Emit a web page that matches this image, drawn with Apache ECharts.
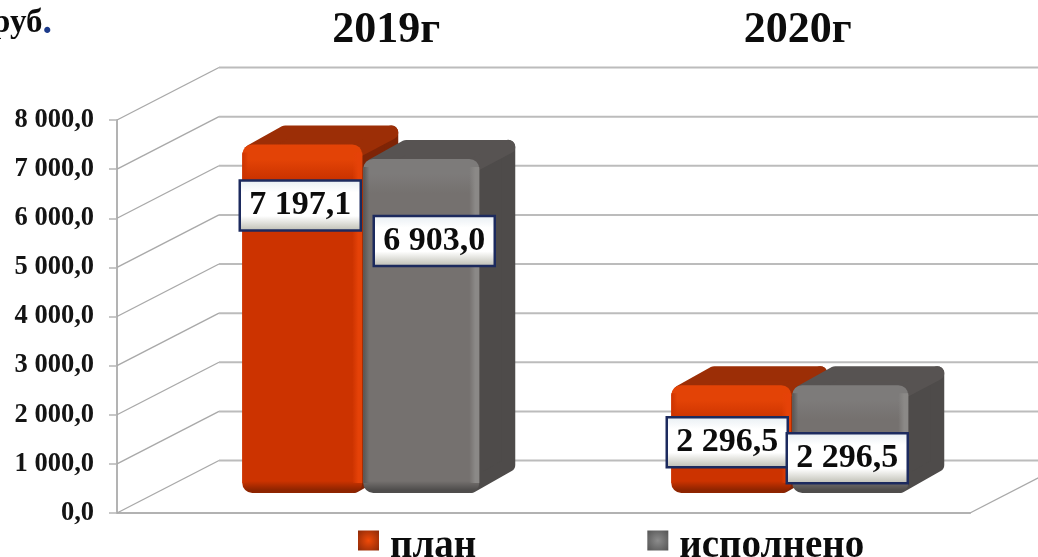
<!DOCTYPE html>
<html><head><meta charset="utf-8">
<style>html,body{margin:0;padding:0;background:#fff;overflow:hidden}#c{width:1038px;height:557px}</style>
<script src="https://cdn.jsdelivr.net/npm/echarts@6/dist/echarts.min.js"></script>
</head><body><div id="c"></div>
<script>
const categories = ['2019г', '2020г'];
const planValues = [7197.1, 2296.5];
const doneValues = [6903.0, 2296.5];
const planLabels = ['7 197,1', '2 296,5'];
const doneLabels = ['6 903,0', '2 296,5'];
const yTicks = [0, 1000, 2000, 3000, 4000, 5000, 6000, 7000, 8000];
const yTickLabels = ['0,0', '1 000,0', '2 000,0', '3 000,0', '4 000,0', '5 000,0', '6 000,0', '7 000,0', '8 000,0'];
const seriesNames = ['план', 'исполнено'];

const FONT = '"Liberation Serif","Times New Roman",serif';
const WALL = {dx: 102, dy: 52.5};
const BAR = {shift: [32, 34.5], lift: 20, dx: 36, dy: 19};
const PALETTE = {
  plan: {top: '#9c2e06', side: '#7e2406', bevel: '#e34306', main: '#cc3300', low: '#8e2400',
         edge: 'rgba(229,66,8,1)', edge0: 'rgba(229,66,8,0)', shade: 'rgba(204,51,0,1)', shade0: 'rgba(204,51,0,0)'},
  done: {top: '#575352', side: '#4e4b4a', bevel: '#7d7b7a', main: '#75716f', low: '#4f4d4c',
         edge: 'rgba(139,137,135,1)', edge0: 'rgba(139,137,135,0)', shade: 'rgba(87,85,84,1)', shade0: 'rgba(87,85,84,0)'}
};
const labelNudge = {plan: [[-2, 46], [-4, 42]], done: [[13, 67], [-3, 58]]};

function wallItem(params, api) {
  const cs = params.coordSys;
  const y = api.coord([0, api.value(1)])[1];
  const x0 = cs.x, x1 = cs.x + cs.width;
  const children = [
    {type: 'line', shape: {x1: x0, y1: y, x2: x0 + WALL.dx, y2: y - WALL.dy}, style: {stroke: '#a9a9a9', lineWidth: 1.4}},
    {type: 'line', shape: {x1: x0 + WALL.dx, y1: y - WALL.dy, x2: x1 + WALL.dx, y2: y - WALL.dy}, style: {stroke: '#bcbcbc', lineWidth: 2}}
  ];
  if (api.value(1) === 0) {
    children.push({type: 'line', shape: {x1: x1, y1: y, x2: x1 + WALL.dx, y2: y - WALL.dy}, style: {stroke: '#a9a9a9', lineWidth: 1.4}});
  }
  return {type: 'group', children};
}

function barItem(kind, texts) {
  return function (params, api) {
    const idx = api.value(0);
    const top0 = api.coord([idx, api.value(1)]);
    const base0 = api.coord([idx, 0]);
    const join = top0[0] + BAR.shift[idx];
    const x0 = kind === 'plan' ? join - 120 : join + 1;
    const x1 = kind === 'plan' ? join : join + 117;
    const yt = top0[1] - BAR.lift + 5;
    const yb = base0[1] - BAR.lift;
    const p = PALETTE[kind];
    const h = yb - yt;
    const w = x1 - x0;
    const r = 7;
    const bevelStop = Math.min(0.4, 34 / h);
    const nudge = labelNudge[kind][idx];
    const cx = (x0 + x1) / 2 + nudge[0];
    const cy = top0[1] + nudge[1];
    const bw = 121, bh = 50;
    return {type: 'group', children: [
      {type: 'polygon', shape: {points: [[x1 - 8, yt + 6], [x1 + BAR.dx - r, yt - BAR.dy + r], [x1 + BAR.dx - r, yb - BAR.dy - r - 2], [x1 - 8, yb - r]]},
        style: {fill: p.side, stroke: p.side, lineWidth: 2 * r, lineJoin: 'round'}},
      {type: 'polygon', shape: {points: [[x0 + r + 2, yt + r], [x0 + BAR.dx + r, yt - BAR.dy + r], [x1 + BAR.dx - r, yt - BAR.dy + r], [x1 - r, yt + r]]},
        style: {fill: p.top, stroke: p.top, lineWidth: 2 * r, lineJoin: 'round'}},
      {type: 'rect', shape: {x: x0, y: yt, width: w, height: h, r: 10},
        style: {fill: {type: 'linear', x: 0, y: 0, x2: 0, y2: 1, colorStops: [
          {offset: 0, color: p.bevel}, {offset: bevelStop * 0.45, color: p.bevel}, {offset: bevelStop, color: p.main},
          {offset: 1 - 12 / h, color: p.main}, {offset: 1 - 3 / h, color: p.low}, {offset: 1, color: p.low}]}}},
      {type: 'rect', shape: {x: x0, y: yt + 8, width: 6, height: h - 18},
        style: {fill: {type: 'linear', x: 0, y: 0, x2: 1, y2: 0, colorStops: [
          {offset: 0, color: p.shade}, {offset: 1, color: p.shade0}]}}},
      {type: 'rect', shape: {x: x1 - 10, y: yt + 8, width: 10, height: h - 18},
        style: {fill: {type: 'linear', x: 0, y: 0, x2: 1, y2: 0, colorStops: [
          {offset: 0, color: p.edge0}, {offset: 0.6, color: p.edge}, {offset: 1, color: p.edge}]}}},
      {type: 'rect', shape: {x: cx - bw / 2, y: cy - bh / 2, width: bw, height: bh},
        style: {stroke: '#1c2a5e', lineWidth: 2.5, fill: {type: 'linear', x: 0, y: 0, x2: 0, y2: 1, colorStops: [
          {offset: 0, color: '#e6edf2'}, {offset: 0.25, color: '#ffffff'}, {offset: 0.7, color: '#ffffff'}, {offset: 1, color: '#b9b9ae'}]}}},
      {type: 'text', x: cx, y: cy, style: {text: texts[idx], fill: '#0c0c0c', font: 'bold 34px ' + FONT, align: 'center', verticalAlign: 'middle'}}
    ]};
  };
}

function legendGrad(c1, c2) {
  return {type: 'radial', x: 0.5, y: 0.5, r: 0.7, colorStops: [{offset: 0, color: c1}, {offset: 1, color: c2}]};
}

const chart = echarts.init(document.getElementById('c'), null, {renderer: 'canvas'});
chart.setOption({
  animation: false,
  backgroundColor: '#fff',
  title: {
    text: '{a|руб}{b|.}', left: -13, top: -1,
    textStyle: {rich: {a: {fontWeight: 'bold', fontSize: 33, fontFamily: FONT, color: '#0c0c0c'},
                       b: {fontWeight: 'bold', fontSize: 38, fontFamily: FONT, color: '#1c3a8a'}}}
  },
  legend: {
    left: 353, top: 522, itemWidth: 21, itemHeight: 20, itemGap: 171,
    formatter: name => '{t|' + name + '}',
    textStyle: {rich: {t: {fontFamily: FONT, fontWeight: 'bold', fontSize: 39, color: '#0c0c0c', padding: [12, 0, 0, 6]}}},
    selectedMode: false,
    data: [
      {name: seriesNames[0], icon: 'rect', itemStyle: {color: legendGrad('#f04a08', '#8e2a08')}},
      {name: seriesNames[1], icon: 'rect', itemStyle: {color: legendGrad('#8c8c8c', '#555')}}
    ]
  },
  grid: {left: 117, right: 68, top: 120, bottom: 44, containLabel: false},
  xAxis: [
    {type: 'category', data: categories, position: 'bottom',
      axisLine: {lineStyle: {color: '#b2b2b2', width: 2}}, axisTick: {show: false}, axisLabel: {show: false}},
    {type: 'category', position: 'top',
      data: [
        {value: categories[0], textStyle: {padding: [0, 0, 0, 112]}},
        {value: categories[1], textStyle: {padding: [0, 0, 0, 82]}}
      ],
      axisLine: {show: false}, axisTick: {show: false},
      axisLabel: {margin: 67, fontFamily: FONT, fontWeight: 'bold', fontSize: 44, color: '#0c0c0c'}}
  ],
  yAxis: {
    type: 'value', min: 0, max: 8000, interval: 1000,
    axisLine: {show: true, lineStyle: {color: '#9a9a9a', width: 1.5}},
    axisTick: {show: true, length: 8, lineStyle: {color: '#b5b5b5', width: 1.5}},
    splitLine: {show: false},
    axisLabel: {margin: 23, fontFamily: FONT, fontWeight: 'bold', fontSize: 26.5, color: '#141414',
      formatter: v => yTickLabels[yTicks.indexOf(v)]}
  },
  series: [
    {type: 'custom', name: 'walls', silent: true, z: 1, clip: false,
      data: yTicks.map(v => [0, v]), encode: {x: 0, y: 1}, renderItem: wallItem},
    {type: 'custom', name: seriesNames[0], z: 2, clip: false, itemStyle: {color: PALETTE.plan.main},
      data: planValues.map((v, i) => [i, v]), encode: {x: 0, y: 1}, renderItem: barItem('plan', planLabels)},
    {type: 'custom', name: seriesNames[1], z: 3, clip: false, itemStyle: {color: PALETTE.done.main},
      data: doneValues.map((v, i) => [i, v]), encode: {x: 0, y: 1}, renderItem: barItem('done', doneLabels)}
  ]
});
</script></body></html>
